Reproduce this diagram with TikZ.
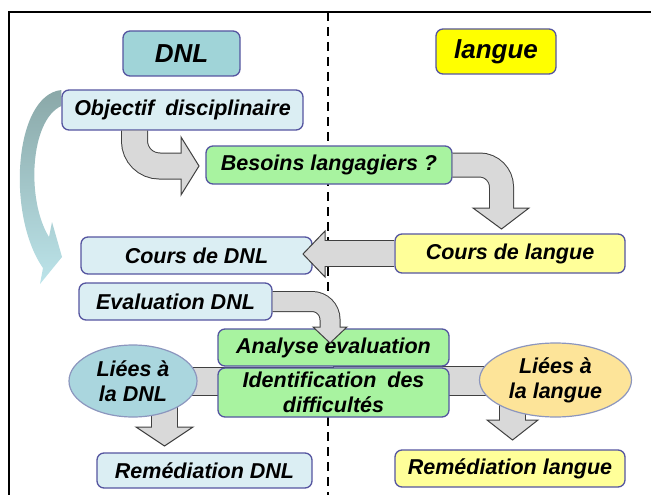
\documentclass[tikz,border=0pt]{standalone}
\usepackage{fontspec}
\setmainfont{Liberation Sans}
\usetikzlibrary{shapes.geometric}
\pgfdeclarelayer{bg}
\pgfsetlayers{bg,main}
\definecolor{bord}{RGB}{85,85,160}
\definecolor{lblue}{RGB}{219,238,243}
\definecolor{hteal}{RGB}{160,212,216}
\definecolor{hyel}{RGB}{255,255,0}
\definecolor{lyel}{RGB}{255,255,153}
\definecolor{lgreen}{RGB}{168,243,160}
\definecolor{ellb}{RGB}{170,214,222}
\definecolor{ello}{RGB}{253,228,153}
\definecolor{ellbord}{RGB}{140,150,190}
\definecolor{afill}{RGB}{217,217,217}
\definecolor{aline}{RGB}{64,64,64}
\definecolor{ctop}{RGB}{138,168,168}
\definecolor{cbot}{RGB}{188,228,234}
\begin{document}
\begin{tikzpicture}[x=1pt,y=-1pt,
  txt/.style={font=\fontsize{21.5}{25}\selectfont\bfseries\itshape},
  htxt/.style={font=\fontsize{26}{30}\selectfont\bfseries\itshape},
  box/.style={draw=bord, line width=1.3pt, rounded corners=7pt, inner sep=2pt, align=center, txt},
  ell/.style={ellipse, draw=ellbord, line width=1.2pt, inner sep=0pt, align=center, txt},
  bandout/.style={draw=aline, line cap=butt},
  bandin/.style={draw=afill, line cap=butt},
  headst/.style={fill=afill, draw=aline, line width=1pt},
  ]
\useasboundingbox (0,0) rectangle (656,495);

% nodes
\node[box, fill=hteal, minimum width=117pt, minimum height=45pt, htxt] (hdnl) at (181.5,53.5) {DNL};
\node[box, fill=hyel, minimum width=120pt, minimum height=45pt, htxt] (hlang) at (496,51.5) {langue};
\node[box, fill=lblue, minimum width=241pt, minimum height=40pt] (obj) at (182.5,110) {Objectif\hspace{5pt} disciplinaire};
\node[box, fill=lgreen, minimum width=246pt, minimum height=38pt] (bes) at (329,165) {Besoins langagiers ?};
\node[box, fill=lblue, minimum width=231pt, minimum height=37pt] (cdnl) at (196.5,255.5) {Cours de DNL};
\node[box, fill=lyel, minimum width=230pt, minimum height=39pt] (clang) at (510,253.5) {Cours de langue};
\node[box, fill=lblue, minimum width=193pt, minimum height=37pt] (eval) at (175.5,301.5) {Evaluation DNL};
\node[box, fill=lgreen, minimum width=231pt, minimum height=37pt] (ana) at (333.5,347.5) {Analyse évaluation};
\node[box, fill=lgreen, minimum width=231pt, minimum height=49pt] (ident) at (333.5,392.5) {Identification\hspace{5pt} des\\difficultés};
\node[ell, fill=ellb, minimum width=128pt, minimum height=72pt] (ldnl) at (133,381) {Liées à\\la DNL};
\node[ell, fill=ello, minimum width=152pt, minimum height=74pt] (llang) at (555.5,380) {Liées à\\la langue};
\node[box, fill=lblue, minimum width=215pt, minimum height=35pt] (rdnl) at (204.5,470.5) {Remédiation DNL};
\node[box, fill=lyel, minimum width=230pt, minimum height=37pt] (rlang) at (510,468.5) {Remédiation langue};

\begin{pgfonlayer}{bg}
  % frame and separator
  \draw[line width=1.5pt] (9,495) -- (9,12) -- (651,12);
  \draw[line width=2pt, dash pattern=on 9pt off 6pt] (328,12) -- (328,495);
  % curved arrow on the left
  \shade[top color=ctop, bottom color=cbot]
    (obj.west |- 0,90) .. controls (14,95) and (6,215) .. (43,268)
    -- (40,284) -- (62,257) -- (52,222) -- (49,237)
    .. controls (26,200) and (30,120) .. (obj.west |- 0,106) -- cycle;
  % bands to the ellipses
  \filldraw[fill=afill, draw=aline, line width=1pt] (ldnl.center |- 0,367) rectangle (ident.center |- 0,395);
  \filldraw[fill=afill, draw=aline, line width=1pt] (ident.center |- 0,366) rectangle (llang.center |- 0,395);
  % down arrows from ellipses
  \draw[bandout, line width=27pt] (164.5,0 |- ldnl.center) -- (164.5,427);
  \filldraw[headst] (136,427) -- (193,427) -- (164.5,446) -- cycle;
  \draw[bandin, line width=25pt] (164.5,0 |- ldnl.center) -- (164.5,428.5);
  \draw[bandout, line width=27pt] (512.5,0 |- llang.center) -- (512.5,420);
  \filldraw[headst] (487,420) -- (538,420) -- (512.5,440) -- cycle;
  \draw[bandin, line width=25pt] (512.5,0 |- llang.center) -- (512.5,421.5);
\end{pgfonlayer}

% arrow 1: Objectif -> Besoins
\draw[bandout, line width=27pt, rounded corners=25pt] (134.5,0 |- obj.south) -- (134.5,166) -- (181,166);
\filldraw[headst] (181,137) -- (199,166) -- (181,195) -- cycle;
\draw[bandin, line width=25pt, rounded corners=25pt] (134.5,0 |- obj.south) -- (134.5,166) -- (182.5,166);
% arrow 2: Besoins -> Cours de langue
\draw[bandout, line width=25pt, rounded corners=22pt] (bes.east) -- (501.5,0 |- bes.east) -- (501.5,208);
\filldraw[headst] (473,208) -- (529,208) -- (501.5,229) -- cycle;
\draw[bandin, line width=23pt, rounded corners=22pt] (bes.east) -- (501.5,0 |- bes.east) -- (501.5,209.5);
% arrow 3: Cours de langue -> Cours de DNL
\draw[bandout, line width=27pt] (clang.west) -- (325,0 |- clang.west);
\filldraw[headst] (325,231) -- (303,254) -- (325,277) -- cycle;
\draw[bandin, line width=25pt] (clang.west) -- (323.5,0 |- clang.west);
% arrow 4: Evaluation -> Analyse
\draw[bandout, line width=21pt, rounded corners=18pt] (eval.east) -- (330,0 |- eval.east) -- (330,327);
\filldraw[headst] (313,327) -- (347,327) -- (330,343) -- cycle;
\draw[bandin, line width=19pt, rounded corners=18pt] (eval.east) -- (330,0 |- eval.east) -- (330,328.5);
\end{tikzpicture}
\end{document}
